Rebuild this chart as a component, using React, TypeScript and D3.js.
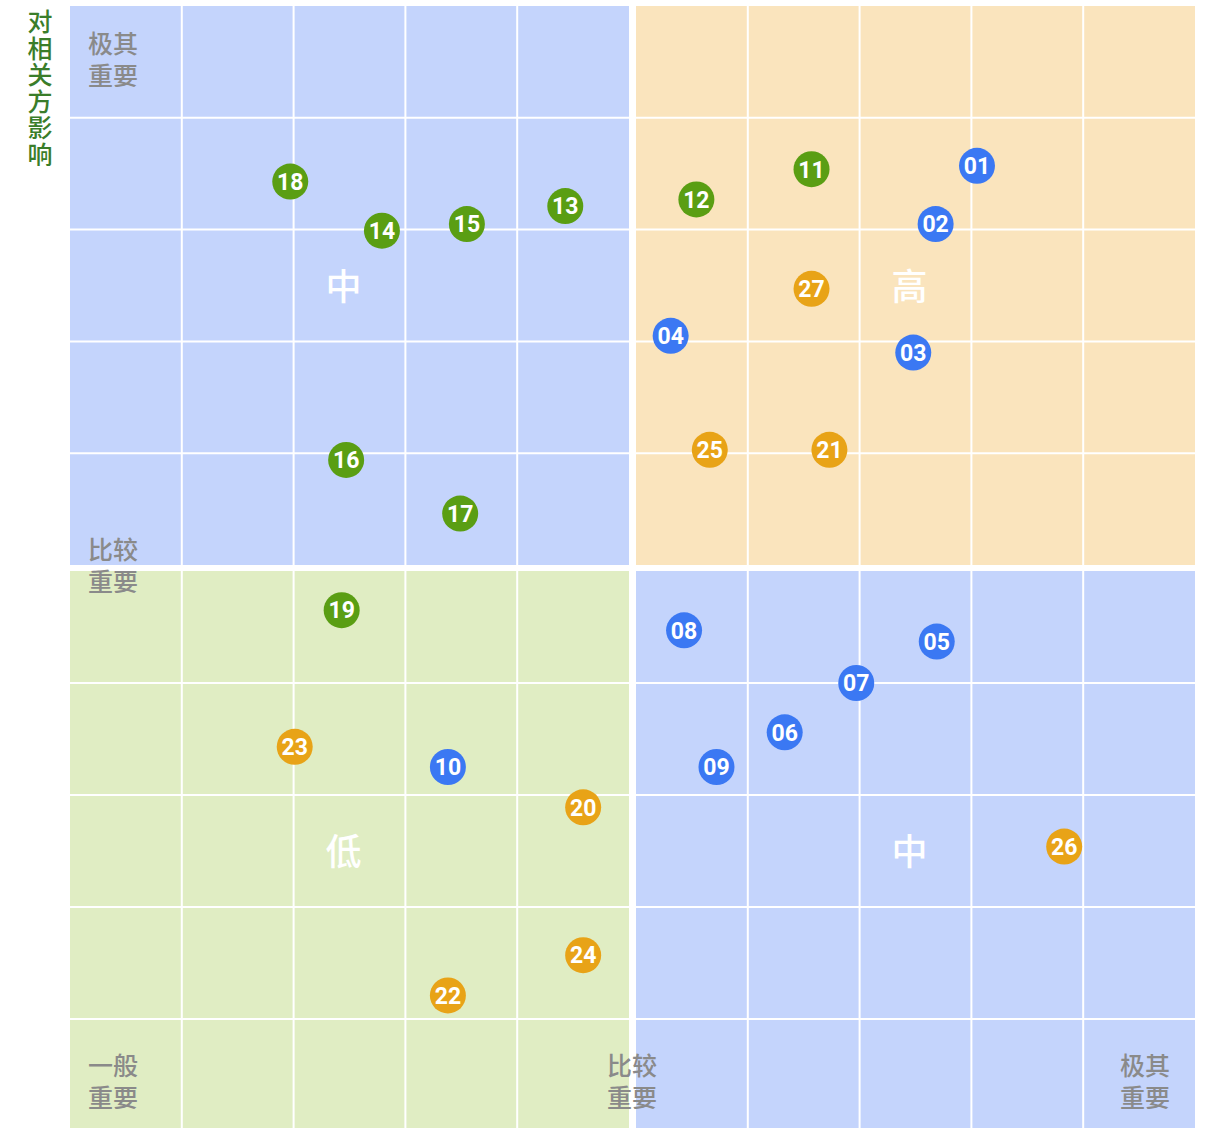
import React from "react";
import * as d3 from "d3";

// risk items: id, colour group, x = 重要性 (0-10), y = 对相关方影响 (0-10)
const ids = ["01","02","03","04","05","06","07","08","09","10","11","12","13","14","15","16","17","18","19","20","21","22","23","24","25","26","27"];
const groups = ["blue","blue","blue","blue","blue","blue","blue","blue","blue","blue","green","green","green","green","green","green","green","green","green","orange","orange","orange","orange","orange","orange","orange","orange"];
const xs = [8.05, 7.68, 7.48, 5.31, 7.69, 6.33, 6.97, 5.43, 5.72, 3.38, 6.57, 5.54, 4.43, 2.79, 3.55, 2.47, 3.49, 1.97, 2.43, 4.59, 6.73, 3.38, 2.01, 4.59, 5.66, 8.83, 6.57];
const ys = [8.57, 8.05, 6.90, 7.05, 4.37, 3.56, 4.0, 4.47, 3.25, 3.25, 8.54, 8.27, 8.21, 7.99, 8.05, 5.94, 5.46, 8.43, 4.65, 2.89, 6.03, 1.21, 3.43, 1.57, 6.03, 2.54, 7.47];

const quadrants = [
  { col: 0, row: 0, fill: "#c4d4fc", label: "中" },
  { col: 1, row: 0, fill: "#fae4bd", label: "高" },
  { col: 0, row: 1, fill: "#e0edc3", label: "低" },
  { col: 1, row: 1, fill: "#c4d4fc", label: "中" },
];
const xLevels = ["一般\n重要", "比较\n重要", "极其\n重要"];
const yLevels = ["极其\n重要", "比较\n重要"];
const yTitle = "对相关方影响";

const colors: Record<string, string> = { blue: "#3b78f3", green: "#5a9e13", orange: "#e8a317" };

const width = 1216;
const height = 1128;

// each half of the matrix has its own scale, with a small gap between
const xHalves = [d3.scaleLinear().domain([0, 5]).range([70, 629]), d3.scaleLinear().domain([5, 10]).range([636, 1195])];
const yHalves = [d3.scaleLinear().domain([5, 10]).range([565, 6]), d3.scaleLinear().domain([0, 5]).range([1131, 571])];
const x = (v: number) => (v <= 5 ? xHalves[0](v) : xHalves[1](v));
const y = (v: number) => (v >= 5 ? yHalves[0](v) : yHalves[1](v));

const labelFont = "'Noto Sans CJK SC', 'Noto Sans', sans-serif";

export default function App() {
  return (
    <svg width={width} height={height} style={{ position: "absolute", left: 0, top: 0, background: "#fff" }}>
      {quadrants.map((q, i) => {
        const xs_ = xHalves[q.col];
        const ys_ = yHalves[q.row];
        const [x0, x1] = xs_.range();
        const [ya, yb] = ys_.range();
        const y0 = Math.min(ya, yb);
        const y1 = Math.max(ya, yb);
        const xt = d3.range(1, 5).map((k) => xs_(xs_.domain()[0] + k));
        const yt = d3.range(1, 5).map((k) => ys_(ys_.domain()[0] + k));
        return (
          <g key={i}>
            <rect x={x0} y={y0} width={x1 - x0} height={y1 - y0} fill={q.fill} />
            {xt.map((v) => (
              <line key={"x" + v} x1={v} x2={v} y1={y0} y2={y1} stroke="#fff" strokeWidth={2} />
            ))}
            {yt.map((v) => (
              <line key={"y" + v} x1={x0} x2={x1} y1={v} y2={v} stroke="#fff" strokeWidth={2} />
            ))}
            <text
              x={x0 + (x1 - x0) / 2 - 6}
              y={q.row === 0 ? 290 : 855}
              fill="#fff"
              fontSize={36}
              fontWeight={500}
              fontFamily={labelFont}
              textAnchor="middle"
              dominantBaseline="middle"
            >
              {q.label}
            </text>
          </g>
        );
      })}

      {/* level labels along the axes */}
      {yLevels.map((t, i) => (
        <text key={"yl" + i} x={88} y={i === 0 ? 53 : 559} fill="#8a8a8a" fontSize={25} fontWeight={500} fontFamily={labelFont}>
          {t.split("\n").map((s, j) => (
            <tspan key={j} x={88} dy={j === 0 ? 0 : 32}>{s}</tspan>
          ))}
        </text>
      ))}
      {xLevels.map((t, i) => {
        const px = [88, 607, 1120][i];
        return (
          <text key={"xl" + i} x={px} y={1075} fill="#8a8a8a" fontSize={25} fontWeight={500} fontFamily={labelFont}>
            {t.split("\n").map((s, j) => (
              <tspan key={j} x={px} dy={j === 0 ? 0 : 32}>{s}</tspan>
            ))}
          </text>
        );
      })}

      {/* y axis title, vertical */}
      <text
        x={40}
        y={9}
        fill="#3a7d2a"
        fontSize={25}
        fontWeight={500}
        fontFamily={labelFont}
        letterSpacing={1.6}
        style={{ writingMode: "vertical-rl" }}
      >
        {yTitle}
      </text>

      {ids.map((id, i) => (
        <g key={id} transform={`translate(${x(xs[i])},${y(ys[i])})`}>
          <circle r={18} fill={colors[groups[i]]} />
          <text
            fill="#fff"
            fontSize={23}
            fontWeight="bold"
            fontFamily="'Roboto', 'DejaVu Sans', sans-serif"
            textAnchor="middle"
            dy="0.36em"
          >
            {id}
          </text>
        </g>
      ))}
    </svg>
  );
}
